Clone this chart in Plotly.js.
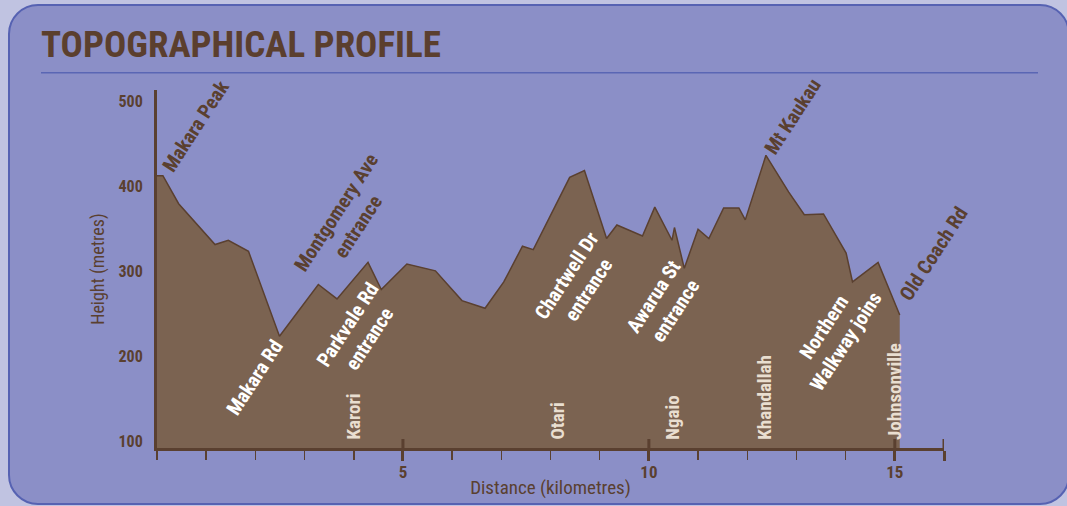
<!DOCTYPE html>
<html>
<head>
<meta charset="utf-8">
<script src="https://cdn.plot.ly/plotly-3.0.1.min.js"></script>
<style>
  html, body { margin: 0; padding: 0; width: 1067px; height: 506px; overflow: hidden; background: #c0c3e1; }
  #panel { position: absolute; left: 8px; top: 4px; width: 1062px; height: 501px; box-sizing: border-box;
           border: 2.5px solid #5662b2; border-radius: 30px; background: #8b8fc7; }
  #chart { position: absolute; left: 0; top: 0; width: 1067px; height: 506px; }
</style>
</head>
<body>
<div id="panel"></div>
<div id="chart"></div>
<script>
// ---- data ----
const distanceKm = [0, 0.12, 0.44, 1.18, 1.45, 1.86, 2.49, 3.28, 3.66, 4.29, 4.56, 5.08, 5.66, 6.20, 6.67, 7.05, 7.43, 7.65, 8.39, 8.69,
                    9.14, 9.35, 9.87, 10.12, 10.47, 10.52, 10.72, 11.00, 11.22, 11.52, 11.83, 11.96, 12.38, 12.84, 13.16, 13.55, 14.01, 14.14, 14.66, 15.10];
const heightM =    [413, 413, 380, 332, 337, 324, 224, 285, 268, 311, 279, 309, 301, 266, 257, 288, 330, 326, 411, 419,
                    339, 355, 342, 376, 337, 352, 304, 350, 339, 375, 375, 361, 437, 394, 367, 368, 322, 288, 311, 249];

const yTickVals = [100, 200, 300, 400, 500];
const xMajorTicks = [5, 10, 15, 16];
const xMajorLabels = ['5', '10', '15', ''];

// landmark labels above the profile (dark)
const topLabels = ['Makara Peak', 'Montgomery Ave<br>entrance', 'Mt Kaukau', 'Old Coach Rd'];
const topLabelX = [0.79, 3.87, 12.93, 15.78];
const topLabelY = [471, 362, 483, 321];
// entrance labels inside the profile (white)
const inLabels = ['Makara Rd', 'Parkvale Rd<br>entrance', 'Chartwell Dr<br>entrance', 'Awarua St<br>entrance', 'Northern<br>Walkway joins'];
const inLabelX = [1.99, 4.09, 8.54, 10.31, 13.78];
const inLabelY = [176, 229, 287, 262, 227];
// suburbs (vertical, cream)
const suburbs = ['Karori', 'Otari', 'Ngaio', 'Khandallah', 'Johnsonville'];
const suburbX = [4.0, 8.14, 10.49, 12.36, 14.98];
const suburbBaseY = 100;

// ---- style ----
const FONT = '"Roboto Condensed", "Liberation Sans Narrow", "Liberation Sans", sans-serif';
const BROWN = '#5a4030';
const TITLEBROWN = '#5b3f2e';
const FILL = '#7b6351';

const annotations = [];
topLabels.forEach((t, i) => annotations.push({
  x: topLabelX[i], y: topLabelY[i], xref: 'x', yref: 'y', text: t, showarrow: false, textangle: -57,
  xanchor: 'center', yanchor: 'middle', font: {family: FONT, size: 20, color: BROWN, weight: 700}
}));
inLabels.forEach((t, i) => annotations.push({
  x: inLabelX[i], y: inLabelY[i], xref: 'x', yref: 'y', text: t, showarrow: false, textangle: -57,
  xanchor: 'center', yanchor: 'middle', font: {family: FONT, size: 20, color: '#ffffff', weight: 700}
}));
suburbs.forEach((t, i) => annotations.push({
  x: suburbX[i], y: suburbBaseY, xref: 'x', yref: 'y', text: t, showarrow: false, textangle: -90,
  xanchor: 'center', yanchor: 'bottom', font: {family: FONT, size: 19, color: '#e9ded0', weight: 700}
}));

// major tick marks cross the axis: inner half drawn from the same tick list
const majorTickShapes = xMajorTicks.map(v => ({
  type: 'line', xref: 'x', yref: 'paper', x0: v, x1: v, y0: 0, y1: 9 / 358,
  line: {color: BROWN, width: 3}, layer: 'above'
}));

const trace = {
  x: distanceKm, y: heightM, type: 'scatter', mode: 'lines', fill: 'tozeroy',
  fillcolor: FILL, line: {color: BROWN, width: 1.5}, hoverinfo: 'skip'
};

const layout = {
  width: 1067, height: 506,
  margin: {l: 157, r: 123, t: 90, b: 58, pad: 0},
  paper_bgcolor: 'rgba(0,0,0,0)', plot_bgcolor: 'rgba(0,0,0,0)',
  showlegend: false,
  title: {text: 'TOPOGRAPHICAL PROFILE', xref: 'container', yref: 'container', x: 41/1067, xanchor: 'left',
          y: 1 - 44/506, yanchor: 'middle', font: {family: FONT, size: 37, color: TITLEBROWN, weight: 700}},
  xaxis: {
    range: [0, 16], showgrid: false, zeroline: false, showline: true, linecolor: BROWN, linewidth: 3,
    tickmode: 'array', tickvals: xMajorTicks, ticktext: xMajorLabels, ticks: 'outside', ticklen: 10, tickwidth: 3,
    tickcolor: BROWN, ticklabelstandoff: -3, tickfont: {family: FONT, size: 17, color: BROWN, weight: 700},
    minor: {tickmode: 'linear', tick0: 0, dtick: 1, ticks: 'outside', ticklen: 9, tickwidth: 1.5, tickcolor: BROWN, showgrid: false},
    title: {text: 'Distance (kilometres)', font: {family: FONT, size: 19, color: BROWN}, standoff: 0},
    fixedrange: true
  },
  yaxis: {
    range: [92.6, 513.8], showgrid: false, zeroline: false, showline: true, linecolor: BROWN, linewidth: 3,
    tickmode: 'array', tickvals: yTickVals, ticks: '', ticklabelstandoff: 8,
    tickfont: {family: FONT, size: 16, color: BROWN, weight: 700},
    title: {text: 'Height (metres)', font: {family: FONT, size: 18, color: BROWN}, standoff: 10},
    fixedrange: true
  },
  shapes: [{type: 'line', xref: 'paper', yref: 'paper', x0: (41 - 157) / 787, x1: (1038 - 157) / 787,
            y0: (448 - 72.7) / 358, y1: (448 - 72.7) / 358, line: {color: '#5a66b4', width: 1.5}}].concat(majorTickShapes),
  annotations: annotations
};

Plotly.newPlot('chart', [trace], layout, {displayModeBar: false, staticPlot: true});
</script>
</body>
</html>
